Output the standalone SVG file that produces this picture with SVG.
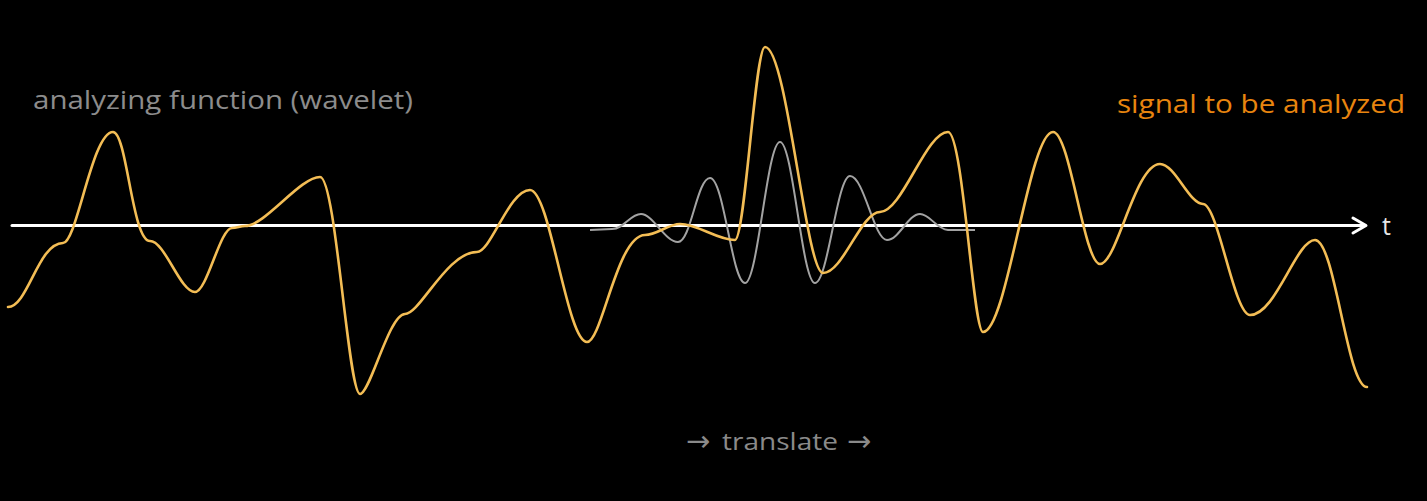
<svg xmlns="http://www.w3.org/2000/svg" width="1427" height="501" viewBox="0 0 1427 501">
  <style>
    .lbl { font-family: "Open Sans", "Liberation Sans", sans-serif; }
    .arr { font-family: "DejaVu Sans", sans-serif; font-size: 29px; }
    .axis { stroke: #ffffff; stroke-width: 3; fill: none; stroke-linecap: round; stroke-linejoin: round; }
    .signal { stroke: #f3bd55; stroke-width: 2.6; fill: none; stroke-linejoin: round; stroke-linecap: round; }
    .wavelet { stroke: #a3a3a3; stroke-width: 2; fill: none; stroke-linejoin: round; }
  </style>
  <rect x="0" y="0" width="1427" height="501" fill="#000000"/>
  <g id="connectors">
    <g id="axis">
      <line class="axis" x1="12" y1="225.5" x2="1365" y2="225.5"/>
      <polyline class="axis" points="1353,218 1366,225.5 1353,233"/>
    </g>
  </g>
  <g id="wavelet">
    <path class="wavelet" d="M 590 230 L 612 229 C 624 229, 630 214, 641 214 C 653 214, 665 242, 678 242 C 691 242, 697 178, 710 178 C 724 178, 732 283, 745 283 C 758 283, 767 142, 780 142 C 793 142, 802 283, 815 283 C 828 283, 837 176, 850 176 C 864 176, 874 240, 887 240 C 899 240, 908 214, 920 214 C 930 214, 936 229, 948 230 L 975 230"/>
  </g>
  <g id="signal">
    <path class="signal" d="M 8 307 C 28 307, 38 243, 63 243 C 77 243, 92 132, 113 132 C 127 132, 132 241, 150 241 C 165 241, 180 292, 195 292 C 207 292, 220 228, 232 228 C 237 228, 240 226, 245 226 C 265 226, 300 177, 320 177 C 336 177, 348 394, 360 394 C 370 394, 389 314, 405 314 C 420 314, 447 252, 477 252 C 491 252, 509 190, 530 190 C 550 190, 567 342, 587 342 C 602 342, 617 235, 645 235 C 657 235, 668 224, 680 224 C 698 224, 717 240, 735 240 C 745 240, 755 47, 765 47 C 787 47, 806 273, 823 273 C 843 273, 861 212, 880 212 C 902 212, 926 132, 948 132 C 963 132, 973 332, 983 332 C 1007 332, 1029 132, 1053 132 C 1070 132, 1084 264, 1100 264 C 1117 264, 1135 164, 1160 164 C 1175 164, 1189 204, 1203 204 C 1218 204, 1234 315, 1250 315 C 1276 315, 1296 240, 1315 240 C 1335 240, 1347 387, 1367 387"/>
  </g>
  <g id="label-wavelet">
    <text class="lbl" x="33" y="109" font-size="26" fill="#8c8c8c" textLength="380" lengthAdjust="spacingAndGlyphs">analyzing function (wavelet)</text>
  </g>
  <g id="label-signal">
    <text class="lbl" x="1117" y="113" font-size="26" fill="#e8850f" textLength="288" lengthAdjust="spacingAndGlyphs">signal to be analyzed</text>
  </g>
  <g id="label-t">
    <text class="lbl" x="1382" y="235" font-size="25" fill="#e6e6e6">t</text>
  </g>
  <g id="label-translate">
    <text x="686" y="451" font-size="24" fill="#8a8a8a"><tspan class="arr">→</tspan><tspan class="lbl" x="722" y="450" textLength="116" lengthAdjust="spacingAndGlyphs">translate</tspan><tspan class="arr" x="847" y="451">→</tspan></text>
  </g>
</svg>
